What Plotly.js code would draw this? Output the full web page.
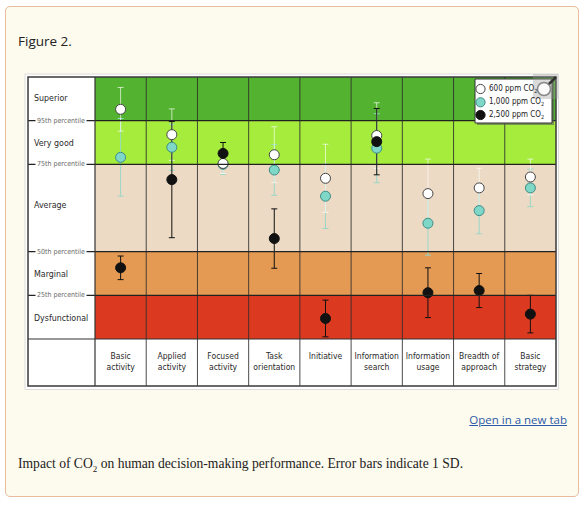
<!DOCTYPE html>
<html>
<head>
<meta charset="utf-8">
<script src="https://cdn.plot.ly/plotly-3.0.1.min.js"></script>
<style>
  html, body { margin: 0; padding: 0; background: #ffffff; width: 585px; height: 505px; overflow: hidden; }
  #card { position: absolute; left: 5px; top: 6px; width: 572px; height: 489px; border: 1px solid #e8bc9f; border-radius: 5px; background: #fdfaee; }
  #figtitle { position: absolute; left: 18px; top: 32px; font-family: "Open Sans", "Noto Sans", sans-serif; font-size: 13.5px; color: #222; }
  #link { position: absolute; right: 18px; top: 412px; font-family: "Open Sans", "Noto Sans", sans-serif; font-size: 11.5px; color: #2b5aa8; text-decoration: underline; }
  #caption { position: absolute; left: 18px; top: 456px; font-family: "Liberation Serif", "DejaVu Serif", serif; font-size: 13.6px; color: #222; }
  #chart { position: absolute; left: 0; top: 0; width: 585px; height: 505px; }
</style>
</head>
<body>
<div id="card"></div>
<div id="figtitle">Figure 2.</div>
<div id="link">Open in a new tab</div>
<div id="caption">Impact of CO<sub style="font-size:9px">2</sub> on human decision-making performance. Error bars indicate 1 SD.</div>
<div id="chart"></div>
<script>
// ---- data ----
const categories = ["Basic<br>activity", "Applied<br>activity", "Focused<br>activity", "Task<br>orientation", "Initiative", "Information<br>search", "Information<br>usage", "Breadth of<br>approach", "Basic<br>strategy"];
const bandLabels = ["Dysfunctional", "Marginal", "Average", "Very good", "Superior"];
const bandEdges = [0, 1, 2, 4, 5, 6];
const bandColors = ["#db3a21", "#e49a53", "#ecdac4", "#a6ec3d", "#53b330"];
const percentileLabels = ["25th percentile", "50th percentile", "75th percentile", "95th percentile"];
const seriesNames = ["600 ppm CO<sub>2</sub>", "1,000 ppm CO<sub>2</sub>", "2,500 ppm CO<sub>2</sub>"];
const ppm600 = [5.26, 4.68, 4.02, 4.22, 3.68, 4.66, 3.33, 3.46, 3.71];
const ppm600sd = [0.50, 0.59, 0.23, 0.64, 0.78, 0.75, 0.79, 0.45, 0.41];
const ppm1000 = [4.16, 4.39, 4.00, 3.87, 3.27, 4.37, 2.65, 2.94, 3.46];
const ppm1000sd = [0.89, 0.53, 0.23, 0.58, 0.74, 0.79, 0.73, 0.53, 0.43];
const ppm2500 = [1.63, 3.65, 4.25, 2.30, 0.47, 4.52, 1.06, 1.11, 0.57];
const ppm2500sd = [0.27, 1.33, 0.25, 0.68, 0.42, 0.76, 0.57, 0.39, 0.43];

// ---- geometry helpers (pixel -> paper) ----
const L = 95, R = 556, T = 77, B = 339;
const px = v => (v - L) / (R - L);
const py = v => (B - v) / (B - T);

const FONT = '"DejaVu Sans Condensed", "Liberation Sans Narrow", "Roboto", sans-serif';

const series = [
  {y: ppm1000, sd: ppm1000sd, fill: "#7fd7c8", line: "#3e8c84", err: "rgba(150,215,200,0.95)", name: seriesNames[1]},
  {y: ppm600, sd: ppm600sd, fill: "#ffffff", line: "#444444", err: "rgba(255,255,255,0.65)", name: seriesNames[0]},
  {y: ppm2500, sd: ppm2500sd, fill: "#111111", line: "#111111", err: "#111111", name: seriesNames[2]}
];

const traces = [];
// error bars first (so they sit behind all markers)
series.forEach(s => {
  traces.push({
    type: "scatter", mode: "markers", x: categories, y: s.y, showlegend: false, hoverinfo: "skip",
    marker: {size: 10, opacity: 0},
    error_y: {type: "data", array: s.sd, symmetric: true, color: s.err, thickness: 1, width: 3}
  });
});
series.forEach(s => {
  traces.push({
    type: "scatter", mode: "markers", x: categories, y: s.y, name: s.name, showlegend: false,
    marker: {size: 10, color: s.fill, line: {color: s.line, width: 1}}
  });
});

const shapes = [];
// white backing with light border
shapes.push({type: "rect", xref: "paper", yref: "paper", x0: px(25), x1: px(558.5), y0: py(389.5), y1: py(74), fillcolor: "#ffffff", line: {color: "#dcdcdc", width: 1}, layer: "below"});
// bands
for (let i = 0; i < bandLabels.length; i++) {
  shapes.push({type: "rect", xref: "paper", yref: "y", x0: 0, x1: 1, y0: bandEdges[i], y1: bandEdges[i + 1], fillcolor: bandColors[i], line: {width: 0}, layer: "below"});
}
// column separators
for (let i = 1; i < categories.length; i++) {
  shapes.push({type: "line", xref: "x", yref: "paper", x0: i - 0.5, x1: i - 0.5, y0: py(386), y1: 1, line: {color: "rgba(45,45,45,0.85)", width: 1}});
}
// percentile boundary lines
[1, 2, 4, 5].forEach(v => {
  shapes.push({type: "line", xref: "paper", yref: "y", x0: px(28), x1: 1, y0: v, y1: v, line: {color: "#222222", width: 1.2}});
});
// frame
shapes.push({type: "line", xref: "paper", yref: "paper", x0: 0, x1: 0, y0: py(386), y1: 1, line: {color: "#333", width: 1.2}});
shapes.push({type: "line", xref: "paper", yref: "paper", x0: px(28), x1: 1, y0: 0, y1: 0, line: {color: "#333", width: 1.2}});
shapes.push({type: "rect", xref: "paper", yref: "paper", x0: px(28), x1: 1, y0: py(386), y1: 1, line: {color: "#3a3a3a", width: 1.5}});

// legend box (with slight shadow)
shapes.push({type: "rect", xref: "paper", yref: "paper", x0: px(477), x1: px(554), y0: py(125), y1: py(81), fillcolor: "rgba(90,90,90,0.6)", line: {width: 0}});
shapes.push({type: "rect", xref: "paper", yref: "paper", x0: px(475), x1: px(552), y0: py(123), y1: py(79), fillcolor: "#ffffff", line: {color: "#333", width: 1}});
const legY = [89, 102.3, 115];
const legFill = ["#ffffff", "#7fd7c8", "#111111"];
const legLine = ["#444444", "#3e8c84", "#111111"];
legY.forEach((yy, i) => {
  shapes.push({type: "circle", xref: "paper", yref: "paper", xsizemode: "pixel", ysizemode: "pixel", xanchor: px(480.5), yanchor: py(yy), x0: -4.6, x1: 4.6, y0: -4.6, y1: 4.6, fillcolor: legFill[i], line: {color: legLine[i], width: 1}});
});
// zoom/magnifier icon overlay
shapes.push({type: "rect", xref: "paper", yref: "paper", x0: px(533), x1: px(558), y0: py(99), y1: py(74), fillcolor: "rgba(150,150,150,0.35)", line: {width: 0}});
shapes.push({type: "line", xref: "paper", yref: "paper", xsizemode: "pixel", ysizemode: "pixel", xanchor: px(544), yanchor: py(89), x0: 4, y0: 4, x1: 12, y1: 12, line: {color: "#333", width: 2.5}});
shapes.push({type: "circle", xref: "paper", yref: "paper", xsizemode: "pixel", ysizemode: "pixel", xanchor: px(544), yanchor: py(89), x0: -6.5, x1: 6.5, y0: -6.5, y1: 6.5, fillcolor: "rgba(255,255,255,0.85)", line: {color: "#888", width: 1.5}});

const annotations = [];
const bandCenters = [0.47, 1.5, 3.08, 4.5, 5.52];
bandLabels.forEach((t, i) => {
  annotations.push({xref: "paper", yref: "y", x: px(32), y: bandCenters[i], xanchor: "left", yanchor: "middle", text: t, showarrow: false, font: {family: FONT, size: 8.8, color: "#2a2a2a"}});
});
[1, 2, 4, 5].forEach((v, i) => {
  annotations.push({xref: "paper", yref: "y", x: px(61.3), y: v, xanchor: "center", yanchor: "middle", text: percentileLabels[i], showarrow: false, bgcolor: "#ffffff", borderpad: 1, font: {family: FONT, size: 7, color: "#6a6a6a"}});
});
seriesNames.forEach((t, i) => {
  annotations.push({xref: "paper", yref: "paper", x: px(486.5), y: py(legY[i]), xanchor: "left", yanchor: "middle", text: t, showarrow: false, font: {family: FONT, size: 8, color: "#222"}});
});

const layout = {
  width: 585, height: 505,
  margin: {l: L, r: 585 - R, t: T, b: 505 - B, pad: 0},
  paper_bgcolor: "rgba(0,0,0,0)", plot_bgcolor: "rgba(0,0,0,0)",
  showlegend: false,
  xaxis: {type: "category", range: [-0.5, categories.length - 0.5], showgrid: false, zeroline: false, showline: false, ticks: "", ticklabelstandoff: 10, tickfont: {family: FONT, size: 8.5, color: "#2a2a2a"}, fixedrange: true},
  yaxis: {range: [0, 6], showgrid: false, zeroline: false, showline: false, showticklabels: false, ticks: "", fixedrange: true},
  shapes: shapes,
  annotations: annotations
};

Plotly.newPlot("chart", traces, layout, {displayModeBar: false, staticPlot: true});
</script>
</body>
</html>
